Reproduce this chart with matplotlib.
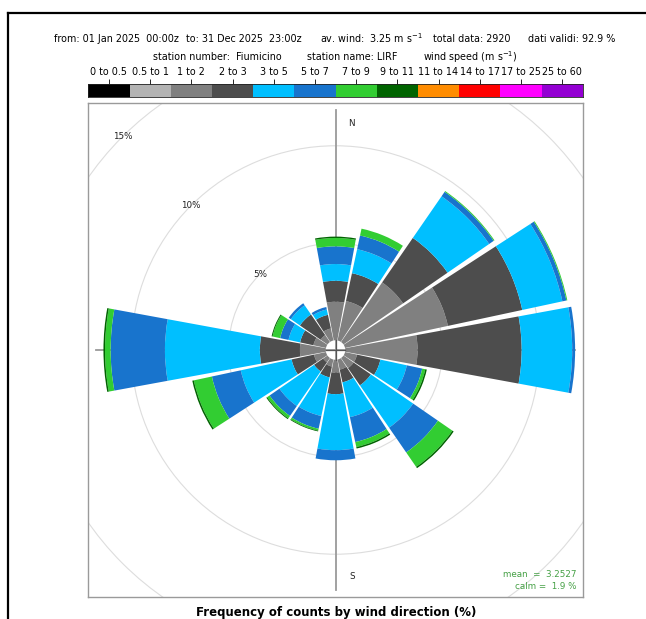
import matplotlib
matplotlib.use("Agg")
import matplotlib.pyplot as plt
from matplotlib.patches import Wedge, Circle
from matplotlib.lines import Line2D

# ---------------- data ----------------
directions = [0, 22.5, 45, 67.5, 90, 112.5, 135, 157.5,
              180, 202.5, 225, 247.5, 270, 292.5, 315, 337.5]

bin_labels = ["0 to 0.5", "0.5 to 1", "1 to 2", "2 to 3", "3 to 5", "5 to 7",
              "7 to 9", "9 to 11", "11 to 14", "14 to 17", "17 to 25", "25 to 60"]
bin_colors = ["#000000", "#B3B3B3", "#808080", "#4D4D4D", "#00BFFF", "#1874CD",
              "#32CD32", "#006400", "#FF8C00", "#FF0000", "#FF00FF", "#9400D3"]

# frequency (%) per direction for each speed bin
ws_0_05 = [0, 0, 0, 0, 0, 0, 0, 0, 0, 0, 0, 0, 0, 0, 0, 0]
ws_05_1 = [0, 0, 0, 0, 0, 0, 0, 0, 0, 0, 0, 0, 0, 0, 0, 0]
ws_1_2 = [1.98, 2.07, 3.72, 5.41, 3.72, 0.63, 0.63, 0.53,
          0.66, 0.37, 0.27, 0.63, 1.33, 0.66, 0.43, 0.63]
ws_2_3 = [1.08, 1.47, 2.78, 3.91, 5.35, 1.23, 1.08, 0.67,
          1.11, 0.57, 0.57, 1.18, 2.06, 0.70, 1.29, 0.72]
ws_3_5 = [0.86, 1.26, 2.60, 2.11, 2.60, 1.39, 2.64, 1.83,
          2.88, 2.03, 2.16, 2.67, 4.88, 0.61, 0.57, 0.28]
ws_5_7 = [0.91, 0.72, 0.28, 0.21, 0.15, 0.81, 1.55, 1.31,
          0.52, 0.67, 0.62, 1.52, 2.79, 0.44, 0.13, 0.13]
ws_7_9 = [0.43, 0.36, 0.05, 0.05, 0.00, 0.16, 0.90, 0.26,
          0.00, 0.10, 0.15, 0.95, 0.29, 0.40, 0.00, 0.00]
ws_9_11 = [0.07, 0.00, 0.00, 0.00, 0.00, 0.08, 0.08, 0.08,
           0.00, 0.04, 0.05, 0.08, 0.08, 0.05, 0.00, 0.00]
ws_11_14 = [0, 0, 0, 0, 0, 0, 0, 0, 0, 0, 0, 0, 0, 0, 0, 0]
ws_14_17 = [0, 0, 0, 0, 0, 0, 0, 0, 0, 0, 0, 0, 0, 0, 0, 0]
ws_17_25 = [0, 0, 0, 0, 0, 0, 0, 0, 0, 0, 0, 0, 0, 0, 0, 0]
ws_25_60 = [0, 0, 0, 0, 0, 0, 0, 0, 0, 0, 0, 0, 0, 0, 0, 0]

speed_bins = [ws_0_05, ws_05_1, ws_1_2, ws_2_3, ws_3_5, ws_5_7,
              ws_7_9, ws_9_11, ws_11_14, ws_14_17, ws_17_25, ws_25_60]

grid_levels = [5, 10, 15]
mean_ws = 3.2527
calm_pct = 1.9

header1 = ["from: 01 Jan 2025  00:00z", "to: 31 Dec 2025  23:00z",
           r"av. wind:  3.25 m s$^{-1}$", "total data: 2920", "dati validi: 92.9 %"]
header2 = ["station number:  Fiumicino", "station name: LIRF",
           r"wind speed (m s$^{-1}$)"]
title = "Frequency of counts by wind direction (%)"

# ---------------- layout ----------------
W, H = 646, 619
fig = plt.figure(figsize=(W / 100, H / 100), dpi=100)
fig.patch.set_facecolor("white")

def fx(px):
    return px / W

def fy(py):
    return 1 - py / H

# outer black frame (partially visible)
fig.add_artist(Line2D([fx(8), 1.0], [fy(13), fy(13)], color="black", lw=1.6,
                      transform=fig.transFigure))
fig.add_artist(Line2D([fx(8), fx(8)], [fy(13), 0.0], color="black", lw=1.6,
                      transform=fig.transFigure))

# header text
for txt, x in zip(header1, [53.6, 186, 320, 433, 528]):
    fig.text(fx(x), fy(38.5), txt, fontsize=6.9, ha="left", va="center")
for txt, x in zip(header2, [152.6, 307, 422.7]):
    fig.text(fx(x), fy(57.5), txt, fontsize=6.9, ha="left", va="center")

# colour key
box_l, box_r = 88.3, 582.7
cax = fig.add_axes([fx(box_l), fy(97), (box_r - box_l) / W, 13 / H])
cax.bar(range(len(bin_labels)), [1] * len(bin_labels), width=1.0,
        color=bin_colors, edgecolor="none")
cax.set_xlim(-0.5, len(bin_labels) - 0.5)
cax.set_ylim(0, 1)
cax.xaxis.tick_top()
cax.set_xticks(range(len(bin_labels)))
cax.set_xticklabels(bin_labels, fontsize=6.9)
cax.tick_params(axis="x", length=3.5, width=0.6, pad=1.5, color="black")
cax.set_yticks([])
for s in cax.spines.values():
    s.set_linewidth(0.6)
    s.set_color("#222222")

# rose axes
box_t, box_b = 103.3, 596.7
ax = fig.add_axes([fx(box_l), fy(box_b), (box_r - box_l) / W, (box_b - box_t) / H])
off = 0.5           # size of central hole (%)
px_per_pct = 19.45
L = (box_r - box_l) / 2 / px_per_pct
ax.set_xlim(-L, L)
ax.set_ylim(-L * (box_b - box_t) / (box_r - box_l), L * (box_b - box_t) / (box_r - box_l))
ax.set_aspect("equal", adjustable="box")
ax.set_xticks([])
ax.set_yticks([])
for s in ax.spines.values():
    s.set_color("#9a9a9a")
    s.set_linewidth(1.0)

# grid circles
for g in grid_levels:
    ax.add_patch(Circle((0, 0), off + g, fill=False, ec="#dddddd", lw=0.8, zorder=1))

totals = [sum(b[i] for b in speed_bins) for i in range(len(directions))]
mymax = off + max(totals)
ax.plot([0, 0], [-mymax, mymax], color="#9a9a9a", lw=1.3, zorder=1.5)
ax.plot([-mymax, mymax], [0, 0], color="#9a9a9a", lw=1.3, zorder=1.5)

# wedges
half_w = 10.4
for i, d in enumerate(directions):
    base = off
    for b, col in zip(speed_bins, bin_colors):
        v = b[i]
        if v <= 0:
            continue
        top = base + v
        ang = 90 - d
        ax.add_patch(Wedge((0, 0), top, ang - half_w, ang + half_w, width=v,
                           facecolor=col, edgecolor="none", lw=0, zorder=2))
        base = top

# inner cross
ax.plot([0, 0], [-off, off], color="#555555", lw=0.9, zorder=2.5)
ax.plot([-off, off], [0, 0], color="#555555", lw=0.9, zorder=2.5)

# circle labels along NW
import math
for g in grid_levels:
    r = off + g
    ax.text(-r * math.sin(math.radians(45)), r * math.cos(math.radians(45)),
            f"{g}%", fontsize=6.3, ha="center", va="center", color="#222222", zorder=3)

ax.text(0.533, 0.960, "N", transform=ax.transAxes, fontsize=6.3,
        ha="center", va="center", color="#222222")
ax.text(0.533, 0.040, "S", transform=ax.transAxes, fontsize=6.3,
        ha="center", va="center", color="#222222")

ax.text(0.9865, 0.0454, f"mean  =  {mean_ws}", transform=ax.transAxes,
        fontsize=6.3, ha="right", va="center", color="#45a045")
ax.text(0.9865, 0.0203, f"calm =  {calm_pct} %", transform=ax.transAxes,
        fontsize=6.3, ha="right", va="center", color="#45a045")

fig.text(fx(336), fy(612.5), title, fontsize=8.5, fontweight="bold",
         ha="center", va="center")

fig.savefig("out.png", dpi=100, facecolor="white")
